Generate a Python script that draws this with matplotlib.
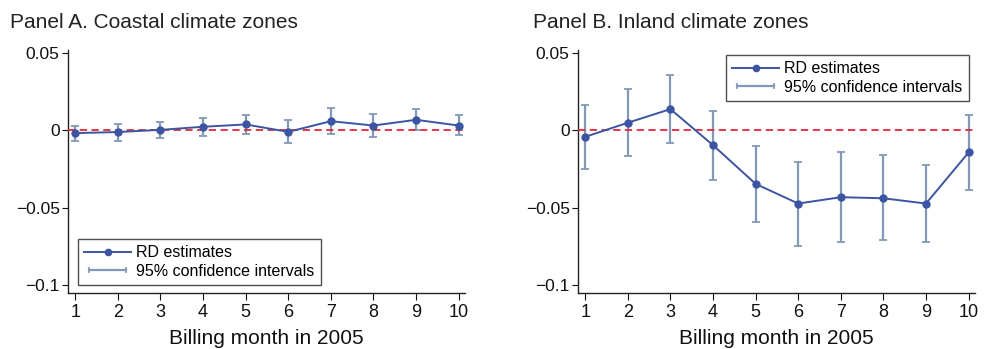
import numpy as np
import matplotlib
matplotlib.use("Agg")
import matplotlib.pyplot as plt
from matplotlib.lines import Line2D
from matplotlib.legend_handler import HandlerLine2D

plt.rcParams['font.family'] = ['Liberation Sans', 'DejaVu Sans']

# Billing months
months = [1, 2, 3, 4, 5, 6, 7, 8, 9, 10]

# Panel A: coastal climate zones
coastal_est = [-0.0017, -0.0010, 0.0004, 0.0024, 0.0039, -0.0009, 0.0060, 0.0032, 0.0069, 0.0032]
coastal_hi = [0.0030, 0.0043, 0.0058, 0.0080, 0.0103, 0.0065, 0.0144, 0.0108, 0.0138, 0.0101]
coastal_lo = [-0.0070, -0.0065, -0.0050, -0.0034, -0.0020, -0.0080, -0.0020, -0.0043, 0.0000, -0.0032]

# Panel B: inland climate zones
inland_est = [-0.0041, 0.0050, 0.0138, -0.0095, -0.0345, -0.0472, -0.0431, -0.0438, -0.0472, -0.0142]
inland_hi = [0.0166, 0.0267, 0.0358, 0.0129, -0.0099, -0.0203, -0.0142, -0.0159, -0.0220, 0.0099]
inland_lo = [-0.0248, -0.0168, -0.0082, -0.0321, -0.0593, -0.0744, -0.0720, -0.0709, -0.0720, -0.0384]

yticks = [0.05, 0, -0.05, -0.1]
yticklabels = ['0.05', '0', '\u22120.05', '\u22120.1']

titles = ['Panel A. Coastal climate zones', 'Panel B. Inland climate zones']

BLUE = '#3b55a3'
CI = '#8199b6'
RED = '#e0283a'

W, H = 985, 349
fig = plt.figure(figsize=(W / 100, H / 100), dpi=100)

# estimates, lower, upper, axes left (px), legend corner, legend anchor (px)
panels = [
    (coastal_est, coastal_lo, coastal_hi, 68, 'upper left', (78, 239)),
    (inland_est, inland_lo, inland_hi, 578, 'upper right', (969, 55)),
]
title_x = [10, 533]

for i, (est, lo, hi, left, loc, anchor) in enumerate(panels):
    ax = fig.add_axes([left / W, 1 - 293 / H, 397 / W, 243 / H])
    est = np.array(est)
    yerr = [est - np.array(lo), np.array(hi) - est]
    ax.errorbar(months, est, yerr=yerr, fmt='none', ecolor=CI, elinewidth=1.6,
                capsize=3, capthick=1.3, zorder=2)
    ax.axhline(0, color=RED, lw=1.3, dashes=(4, 2.5), zorder=3)
    ax.plot(months, est, color=BLUE, lw=1.4, marker='o', ms=5, zorder=4)

    ax.set_xlim(0.83, 10.15)
    ax.set_ylim(-0.105, 0.052)
    ax.set_xticks(months)
    ax.set_yticks(yticks)
    ax.set_yticklabels(yticklabels)
    for s in ['top', 'right']:
        ax.spines[s].set_visible(False)
    for s in ['left', 'bottom']:
        ax.spines[s].set_linewidth(1.0)
        ax.spines[s].set_color('#222222')
    ax.tick_params(axis='y', labelsize=12.5, length=4, pad=2, colors='#111111')
    ax.tick_params(axis='x', labelsize=13, length=5, pad=3, colors='#111111')
    ax.set_xlabel('Billing month in 2005', fontsize=15, labelpad=6, color='#111111')

    h_rd = Line2D([], [], color=BLUE, lw=1.4, marker='o', ms=4.5)
    h_ci = Line2D([], [], color=CI, lw=1.6, marker='|', ms=5, mew=1.2)
    leg = ax.legend([h_rd, h_ci], ['RD estimates', '95% confidence intervals'],
                    loc=loc, bbox_to_anchor=(anchor[0] / W, 1 - anchor[1] / H),
                    bbox_transform=fig.transFigure,
                    fontsize=11.5, frameon=True, fancybox=False, borderaxespad=0,
                    handlelength=2.9, handletextpad=0.35, labelspacing=0.2,
                    borderpad=0.4,
                    handler_map={h_ci: HandlerLine2D(numpoints=2)})
    leg.get_frame().set_edgecolor('#222222')
    leg.get_frame().set_linewidth(1.0)

    fig.text(title_x[i] / W, 1 - 28 / H, titles[i], fontsize=15, va='baseline',
             ha='left', color='#222222')

fig.savefig('out.png', dpi=100)
